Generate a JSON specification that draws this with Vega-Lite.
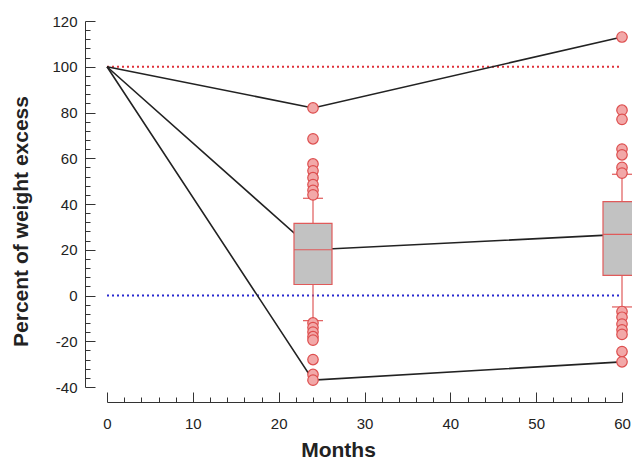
{
  "$schema": "https://vega.github.io/schema/vega-lite/v6.json",
  "width": 515,
  "height": 366,
  "autosize": {"type": "none"},
  "padding": {"left": 107, "top": 21, "right": 10, "bottom": 75},
  "background": "white",
  "config": {
    "view": {"stroke": null},
    "axis": {
      "labelFont": "Liberation Sans",
      "labelFontSize": 15,
      "labelColor": "#222222",
      "titleFont": "Liberation Sans",
      "titleFontSize": 21,
      "titleFontWeight": "bold",
      "titleColor": "#222222",
      "domainColor": "#333333",
      "tickColor": "#333333",
      "grid": false,
      "labelOverlap": false,
      "labelFlush": false
    }
  },
  "resolve": {"axis": {"x": "independent", "y": "independent"}},
  "datasets": {
    "lines": [
      {"month": 0, "value": 100, "series": "max"},
      {"month": 24, "value": 82, "series": "max"},
      {"month": 60, "value": 113, "series": "max"},
      {"month": 0, "value": 100, "series": "median"},
      {"month": 24, "value": 20, "series": "median"},
      {"month": 60, "value": 26.7, "series": "median"},
      {"month": 0, "value": 100, "series": "min"},
      {"month": 24, "value": -37, "series": "min"},
      {"month": 60, "value": -29, "series": "min"}
    ],
    "boxes": [
      {"month": 24, "q1": 4.8, "q3": 31.5, "median": 20, "lo": -11, "hi": 42.5},
      {"month": 60, "q1": 8.8, "q3": 41, "median": 26.7, "lo": -5, "hi": 53}
    ],
    "outliers": [
      {"month": 24, "value": 82},
      {"month": 24, "value": 68.5},
      {"month": 24, "value": 57.5},
      {"month": 24, "value": 54.5},
      {"month": 24, "value": 51.5},
      {"month": 24, "value": 48.5},
      {"month": 24, "value": 46},
      {"month": 24, "value": 44},
      {"month": 24, "value": -12},
      {"month": 24, "value": -14},
      {"month": 24, "value": -16},
      {"month": 24, "value": -18},
      {"month": 24, "value": -19.5},
      {"month": 24, "value": -28},
      {"month": 24, "value": -34.5},
      {"month": 24, "value": -37},
      {"month": 60, "value": 113},
      {"month": 60, "value": 81},
      {"month": 60, "value": 77},
      {"month": 60, "value": 64},
      {"month": 60, "value": 61.5},
      {"month": 60, "value": 56},
      {"month": 60, "value": 53.5},
      {"month": 60, "value": -7},
      {"month": 60, "value": -9.5},
      {"month": 60, "value": -12.5},
      {"month": 60, "value": -15},
      {"month": 60, "value": -17},
      {"month": 60, "value": -24.5},
      {"month": 60, "value": -29}
    ],
    "refs": [
      {"value": 100, "color": "#e0303a"},
      {"value": 0, "color": "#2a2ad0"}
    ]
  },
  "layer": [
    {
      "data": {"name": "refs"},
      "mark": {"type": "rule", "strokeDash": [2, 3], "strokeWidth": 2},
      "encoding": {
        "x": {
          "datum": 0,
          "type": "quantitative",
          "scale": {"domain": [0, 60], "nice": false, "zero": false, "padding": 0},
          "axis": {
            "orient": "bottom",
            "title": "Months",
            "offset": 15,
            "values": [0, 10, 20, 30, 40, 50, 60],
            "tickSize": -10,
            "labelPadding": 24,
            "titleX": 231,
            "titleY": 48,
            "titleBaseline": "middle"
          }
        },
        "x2": {"datum": 60},
        "y": {
          "field": "value",
          "type": "quantitative",
          "scale": {"domain": [-40, 120], "nice": false, "zero": false, "padding": 0},
          "axis": {
            "orient": "left",
            "title": "Percent of weight excess",
            "offset": 22,
            "values": [-40, -20, 0, 20, 40, 60, 80, 100, 120],
            "labelExpr": "'' + datum.value",
            "tickSize": -10,
            "labelPadding": 18,
            "titleX": -64,
            "titleY": 200,
            "titleBaseline": "middle",
            "titleAngle": -90
          }
        },
        "color": {"field": "color", "type": "nominal", "scale": null}
      }
    },
    {
      "data": {"name": "lines"},
      "mark": {"type": "line", "color": "#222222", "strokeWidth": 1.6},
      "encoding": {
        "x": {
          "field": "month",
          "type": "quantitative",
          "axis": {
            "orient": "bottom",
            "title": null,
            "offset": 15,
            "values": [2,4,6,8,12,14,16,18,22,24,26,28,32,34,36,38,42,44,46,48,52,54,56,58],
            "labels": false,
            "domain": false,
            "tickSize": -5
          }
        },
        "y": {
          "field": "value",
          "type": "quantitative",
          "axis": {
            "orient": "left",
            "title": null,
            "offset": 22,
            "values": [-36,-32,-28,-24,-16,-12,-8,-4,4,8,12,16,24,28,32,36,44,48,52,56,64,68,72,76,84,88,92,96,104,108,112,116],
            "labels": false,
            "domain": false,
            "tickSize": -5
          }
        },
        "detail": {"field": "series"}
      }
    },
    {
      "data": {"name": "boxes"},
      "mark": {"type": "rule", "color": "#e05a5a", "strokeWidth": 1.2},
      "encoding": {
        "x": {"field": "month", "type": "quantitative", "axis": null},
        "y": {"field": "lo", "type": "quantitative", "axis": null},
        "y2": {"field": "hi"}
      }
    },
    {
      "data": {"name": "boxes"},
      "mark": {"type": "bar", "size": 38, "fill": "#c2c2c2", "stroke": "#e05a5a", "strokeWidth": 1.2},
      "encoding": {
        "x": {"field": "month", "type": "quantitative", "axis": null},
        "y": {"field": "q1", "type": "quantitative", "axis": null},
        "y2": {"field": "q3"}
      }
    },
    {
      "data": {"name": "boxes"},
      "mark": {"type": "tick", "orient": "horizontal", "size": 38, "thickness": 1.2, "color": "#e05a5a", "opacity": 1},
      "encoding": {
        "x": {"field": "month", "type": "quantitative", "axis": null},
        "y": {"field": "median", "type": "quantitative", "axis": null}
      }
    },
    {
      "data": {"name": "boxes"},
      "mark": {"type": "tick", "orient": "horizontal", "size": 20, "thickness": 1.2, "color": "#e05a5a", "opacity": 1},
      "encoding": {
        "x": {"field": "month", "type": "quantitative", "axis": null},
        "y": {"field": "hi", "type": "quantitative", "axis": null}
      }
    },
    {
      "data": {"name": "boxes"},
      "mark": {"type": "tick", "orient": "horizontal", "size": 20, "thickness": 1.2, "color": "#e05a5a", "opacity": 1},
      "encoding": {
        "x": {"field": "month", "type": "quantitative", "axis": null},
        "y": {"field": "lo", "type": "quantitative", "axis": null}
      }
    },
    {
      "data": {"name": "outliers"},
      "mark": {"type": "point", "shape": "circle", "filled": false, "size": 110, "fill": "#f2a8a8", "fillOpacity": 1, "stroke": "#dd4e4e", "strokeWidth": 1.2, "opacity": 1},
      "encoding": {
        "x": {"field": "month", "type": "quantitative", "axis": null},
        "y": {"field": "value", "type": "quantitative", "axis": null}
      }
    }
  ]
}
